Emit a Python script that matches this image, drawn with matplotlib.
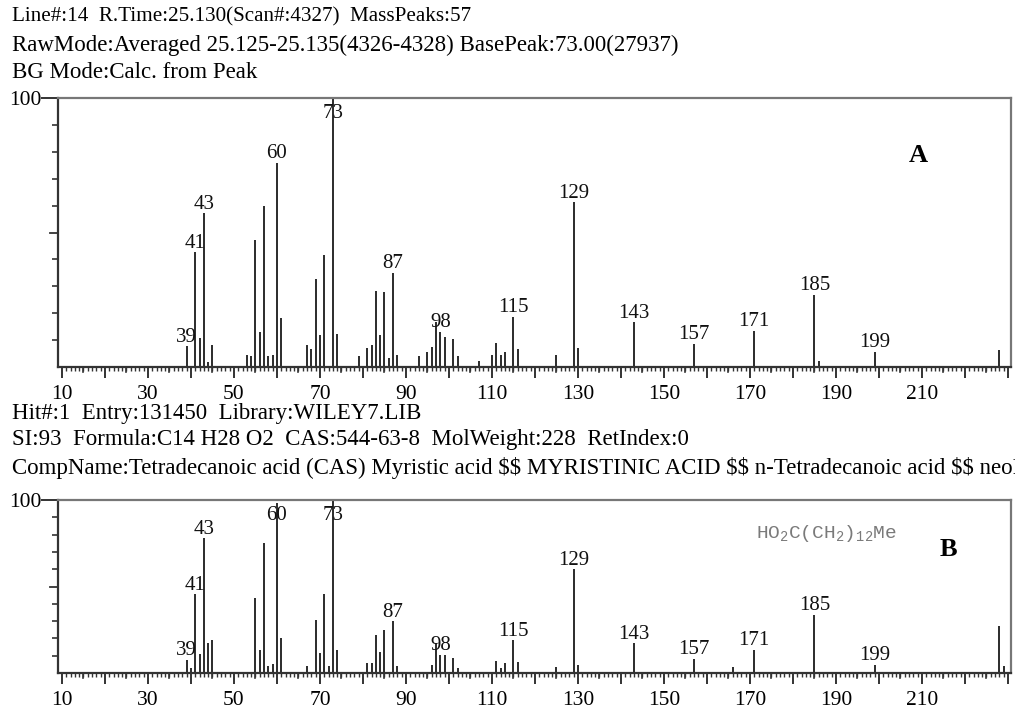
import numpy as np
import matplotlib
matplotlib.use("Agg")
import matplotlib.pyplot as plt
from matplotlib.ticker import MultipleLocator, FixedLocator, FuncFormatter

# sample spectrum (panel A)
mz_a = [39, 41, 42, 43, 44, 45, 53, 54, 55, 56, 57, 58, 59, 60, 61, 67, 68, 69, 70, 71,
        73, 74, 79, 81, 82, 83, 84, 85, 86, 87, 88, 93, 95, 96, 97, 98, 99, 101, 102,
        107, 110, 111, 112, 113, 115, 116, 125, 129, 130, 143, 157, 171, 185, 186, 199, 228]
int_a = [7.7, 42.6, 10.6, 57.2, 1.7, 8.0, 4.6, 4.0, 47.3, 12.9, 59.7, 4.0, 4.6, 76.0, 18.3,
         8.3, 6.7, 32.7, 12.0, 41.8, 100, 12.4, 4.0, 7.1, 8.3, 28.3, 12.0, 27.8, 3.3, 35.1,
         4.6, 4.0, 5.4, 7.4, 16.8, 13.1, 11.3, 10.3, 4.0, 2.2, 4.3, 9.0, 4.3, 5.6, 18.7, 6.6,
         4.6, 61.3, 6.9, 16.6, 8.7, 13.5, 26.9, 2.1, 5.6, 6.4]

# library spectrum (panel B)
mz_b = [39, 40, 41, 42, 43, 44, 45, 55, 56, 57, 58, 59, 60, 61, 67, 69, 70, 71, 72, 73, 74,
        81, 82, 83, 84, 85, 87, 88, 96, 97, 98, 99, 101, 102, 111, 112, 113, 115, 116, 125,
        129, 130, 143, 157, 166, 171, 185, 199, 228, 229]
int_b = [7.7, 2.9, 45.6, 11.2, 77.9, 17.3, 19.2, 43.3, 13.5, 75.0, 4.2, 5.4, 98.5, 20.2, 4.2,
         30.8, 11.5, 45.8, 3.8, 100, 13.5, 5.8, 5.8, 22.1, 12.1, 24.6, 29.8, 4.2, 4.8, 17.5,
         10.6, 10.2, 8.9, 2.9, 6.7, 2.9, 5.8, 18.8, 6.2, 3.3, 60.0, 4.8, 17.3, 8.3, 3.5, 13.5,
         33.7, 4.8, 27.3, 3.8]

labeled = [39, 41, 43, 60, 73, 87, 98, 115, 129, 143, 157, 171, 185, 199]
xtick_labels = [10, 30, 50, 70, 90, 110, 130, 150, 170, 190, 210]

header_a = ["Line#:14  R.Time:25.130(Scan#:4327)  MassPeaks:57",
            "RawMode:Averaged 25.125-25.135(4326-4328) BasePeak:73.00(27937)",
            "BG Mode:Calc. from Peak"]
header_b = ["Hit#:1  Entry:131450  Library:WILEY7.LIB",
            "SI:93  Formula:C14 H28 O2  CAS:544-63-8  MolWeight:228  RetIndex:0",
            "CompName:Tetradecanoic acid (CAS) Myristic acid $$ MYRISTINIC ACID $$ "
            "n-Tetradecanoic acid $$ neoFat 14"]
header_sizes = [15.2, 16.5, 16.5]

SERIF = "Liberation Serif"
W, H = 1015, 709
plt.rcParams["mathtext.fontset"] = "custom"
plt.rcParams["mathtext.rm"] = "Liberation Mono"
plt.rcParams["mathtext.default"] = "rm"

fig = plt.figure(figsize=(W / 100, H / 100), dpi=100)


def px_axes(l, t, r, b):
    return fig.add_axes([l / W, 1 - b / H, (r - l) / W, (b - t) / H])


def draw_panel(ax, mz, inten, hpx):
    ax.vlines(mz, 0, inten, color="#2b2b2b", lw=1.4)
    ax.set_xlim(9.07, 230.7)
    ax.set_ylim(0, 100)
    for s in ["left", "bottom"]:
        ax.spines[s].set_color("#333333")
        ax.spines[s].set_linewidth(1.6)
    for s in ["top", "right"]:
        ax.spines[s].set_color("#777777")
        ax.spines[s].set_linewidth(1.6)

    # x ticks: every 10 long, every 1 short, labels at 10, 30, ... 210
    ax.xaxis.set_major_locator(MultipleLocator(10))
    ax.xaxis.set_minor_locator(MultipleLocator(1))
    ax.xaxis.set_major_formatter(FuncFormatter(
        lambda v, p: f"{v:.0f}" if int(round(v)) in xtick_labels else ""))
    ax.tick_params(axis="x", which="major", direction="out", length=8, width=1.4,
                   color="#333333", pad=5, labelsize=15.5)
    ax.tick_params(axis="x", which="minor", direction="out", length=3, width=1.0,
                   color="#333333")
    # 5-step ticks
    for v in np.arange(15, 231, 10):
        ax.plot([v, v], [0, -5 * 100 / hpx], color="#333333", lw=1.2, clip_on=False)

    # y ticks
    ax.yaxis.set_major_locator(FixedLocator([100]))
    ax.yaxis.set_major_formatter(FuncFormatter(lambda v, p: "100"))
    ax.yaxis.set_minor_locator(FixedLocator([10, 20, 30, 40, 60, 70, 80, 90]))
    ax.tick_params(axis="y", which="major", direction="out", length=12, width=1.4,
                   color="#333333", pad=0, labelsize=15.5)
    ax.tick_params(axis="y", which="minor", direction="out", length=4, width=1.2,
                   color="#333333")
    ax.plot([0, -8 / 953], [50, 50], color="#333333", lw=1.3, clip_on=False,
            transform=ax.get_yaxis_transform())
    for lab in ax.get_xticklabels() + ax.get_yticklabels():
        lab.set_family(SERIF)

    # peak labels
    cap = 100 - 20 * 100 / hpx
    lookup = dict(zip(mz, inten))
    for m in labeled:
        y = min(lookup[m] + 4.5 * 100 / hpx, cap)
        ax.text(m, y, str(m), ha="center", va="baseline", fontsize=15,
                family=SERIF, color="#111111")


ax_a = px_axes(58, 98, 1011, 367)
ax_b = px_axes(58, 500, 1011, 673)
draw_panel(ax_a, mz_a, int_a, 269)
draw_panel(ax_b, mz_b, int_b, 173)

for txt, yc, fs in zip(header_a, [17, 45, 72], header_sizes):
    fig.text(12 / W, 1 - yc / H, txt, ha="left", va="center", fontsize=fs,
             family=SERIF, parse_math=False)
for txt, yc in zip(header_b, [413, 440, 468]):
    fig.text(12 / W, 1 - yc / H, txt, ha="left", va="center", fontsize=16.5,
             family=SERIF, parse_math=False)

fig.text(918 / W, 1 - 155 / H, "A", ha="center", va="center", fontsize=19,
         fontweight="bold", family=SERIF)
fig.text(948 / W, 1 - 549 / H, "B", ha="center", va="center", fontsize=19,
         fontweight="bold", family=SERIF)
fig.text(756 / W, 1 - 533 / H, r"HO$_2$C(CH$_2$)$_{12}$Me", ha="left", va="center",
         fontsize=14, family="Liberation Mono", color="#7a7a7a")

fig.savefig("out.png", dpi=100)
